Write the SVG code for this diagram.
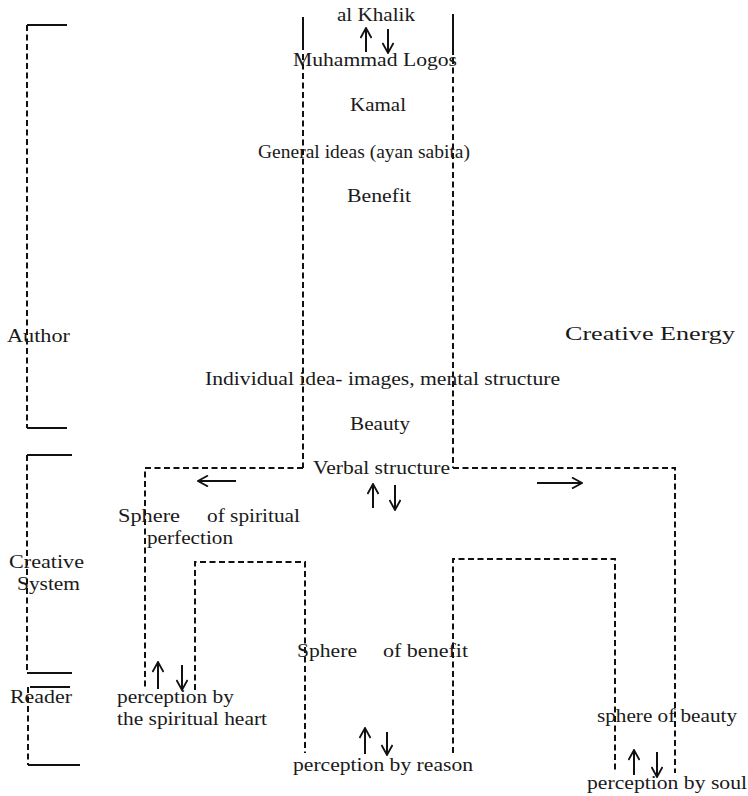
<svg xmlns="http://www.w3.org/2000/svg" width="748" height="796" viewBox="0 0 748 796">
<style>
text{font-family:"Liberation Serif","Times New Roman",serif;font-size:19px;fill:#1a1a1a}
.d{fill:none;stroke:#111;stroke-width:2;stroke-dasharray:6 3.5}
.s{fill:none;stroke:#111;stroke-width:2}
.a{fill:none;stroke:#111;stroke-width:2;marker-end:url(#ah)}
</style>
<defs>
<marker id="ah" viewBox="0 0 12 12" refX="11" refY="6" markerWidth="12" markerHeight="12" markerUnits="userSpaceOnUse" orient="auto">
<path d="M1,0.5 L11,6 L1,11.5" fill="none" stroke="#111" stroke-width="1.8"/>
</marker>
</defs>
<rect width="748" height="796" fill="#fff"/>
<g id="connectors">
<path class="s" d="M303,17 V50"/>
<path class="d" d="M303,54 V468"/>
<path class="s" d="M453,14 V55"/>
<path class="d" d="M453,58 V468"/>
<path class="d" d="M303,468 H145 V690"/>
<path class="d" d="M453,468 H675 V773"/>
<path class="d" d="M195,690 V562 H305 V753"/>
<path class="d" d="M453,753 V559 H615 V773"/>
<path class="a" d="M236,481 H198"/>
<path class="a" d="M537,483 H582"/>
<path class="a" d="M366,52 V28"/>
<path class="a" d="M388,29 V53"/>
<path class="a" d="M373,508 V484"/>
<path class="a" d="M395,485 V510"/>
<path class="a" d="M158,689 V662"/>
<path class="a" d="M182,665 V690"/>
<path class="a" d="M365,754 V728"/>
<path class="a" d="M387,732 V755"/>
<path class="a" d="M634,775 V750"/>
<path class="a" d="M657,752 V777"/>
<path class="d" d="M27,25 V428"/>
<path class="s" d="M27,25 H67 M27,428 H67"/>
<path class="d" d="M27,455 V673"/>
<path class="s" d="M27,455 H72 M27,673 H72"/>
<path class="d" d="M28,687 V765"/>
<path class="s" d="M30,687 H70 M28,765 H80"/>
</g>
<g id="al-khalik"><text x="337" y="21" textLength="78" lengthAdjust="spacingAndGlyphs">al Khalik</text></g>
<g id="muhammad-logos"><text x="293" y="66" textLength="164" lengthAdjust="spacingAndGlyphs">Muhammad Logos</text></g>
<g id="kamal"><text x="350" y="111" textLength="56" lengthAdjust="spacingAndGlyphs">Kamal</text></g>
<g id="general-ideas"><text x="258" y="158" textLength="212" lengthAdjust="spacingAndGlyphs">General ideas (ayan sabita)</text></g>
<g id="benefit"><text x="347" y="202" textLength="64" lengthAdjust="spacingAndGlyphs">Benefit</text></g>
<g id="author"><text x="7" y="342" textLength="63" lengthAdjust="spacingAndGlyphs">Author</text></g>
<g id="creative-energy"><text x="565" y="340" textLength="170" lengthAdjust="spacingAndGlyphs">Creative Energy</text></g>
<g id="individual-idea"><text x="205" y="385" textLength="355" lengthAdjust="spacingAndGlyphs">Individual idea- images, mental structure</text></g>
<g id="beauty"><text x="350" y="430" textLength="60" lengthAdjust="spacingAndGlyphs">Beauty</text></g>
<g id="verbal-structure"><text x="313" y="474" textLength="137" lengthAdjust="spacingAndGlyphs">Verbal structure</text></g>
<g id="sphere-spiritual">
<text x="118" y="522" textLength="62" lengthAdjust="spacingAndGlyphs">Sphere</text>
<text x="207" y="522" textLength="93" lengthAdjust="spacingAndGlyphs">of spiritual</text>
<text x="147" y="544" textLength="86" lengthAdjust="spacingAndGlyphs">perfection</text>
</g>
<g id="creative-system">
<text x="9" y="568" textLength="75" lengthAdjust="spacingAndGlyphs">Creative</text>
<text x="17" y="590" textLength="63" lengthAdjust="spacingAndGlyphs">System</text>
</g>
<g id="reader"><text x="10" y="703" textLength="62" lengthAdjust="spacingAndGlyphs">Reader</text></g>
<g id="sphere-benefit">
<text x="297" y="657" textLength="60" lengthAdjust="spacingAndGlyphs">Sphere</text>
<text x="383" y="657" textLength="85" lengthAdjust="spacingAndGlyphs">of benefit</text>
</g>
<g id="perception-heart">
<text x="117" y="703" textLength="117" lengthAdjust="spacingAndGlyphs">perception by</text>
<text x="117" y="725" textLength="150" lengthAdjust="spacingAndGlyphs">the spiritual heart</text>
</g>
<g id="perception-reason"><text x="293" y="771" textLength="180" lengthAdjust="spacingAndGlyphs">perception by reason</text></g>
<g id="sphere-beauty"><text x="597" y="722" textLength="140" lengthAdjust="spacingAndGlyphs">sphere of beauty</text></g>
<g id="perception-soul"><text x="587" y="789" textLength="160" lengthAdjust="spacingAndGlyphs">perception by soul</text></g>
</svg>
